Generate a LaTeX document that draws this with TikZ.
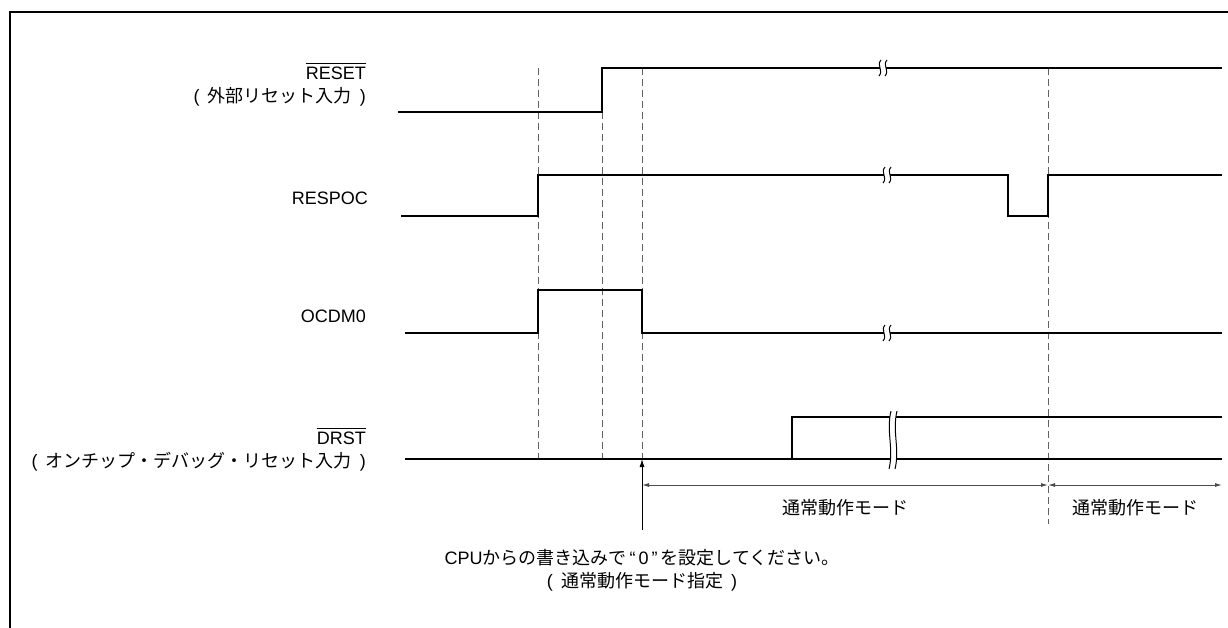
\documentclass[tikz,border=0pt]{standalone}
\usepackage{fontspec}
\setmainfont{Liberation Sans}
\newfontfamily\jp{Noto Sans CJK JP}
\usetikzlibrary{arrows.meta,positioning}

\tikzset{
  sig/.style={line width=1.8pt, line join=miter},
  guide/.style={gray!75!black, line width=0.9pt, dash pattern=on 7pt off 4pt},
  dimline/.style={gray!60!black, line width=0.9pt, {Latex[length=7pt,width=4pt]}-{Latex[length=7pt,width=4pt]}},
  lbl/.style={font=\fontsize{18}{23}\selectfont, inner sep=0pt},
}

% japanese text in spaced parentheses
\newcommand{\jparen}[1]{(\hspace{0.45em}{\jp #1}\hspace{0.45em})}
% active-low signal name
\newcommand{\lowname}[1]{\leavevmode\vbox{\hrule height 1.1pt\kern 3pt\hbox{#1}}}

% break mark: x, y, half height
\newcommand{\brkmark}[3]{%
  \fill[white] (#1+1,#2-#3) .. controls (#1-4,#2-0.3*#3) and (#1+4,#2+0.3*#3) .. (#1-1,#2+#3)
    -- (#1+5,#2+#3) .. controls (#1+10,#2+0.3*#3) and (#1+2,#2-0.3*#3) .. (#1+7,#2-#3) -- cycle;
  \draw[line width=1pt] (#1+1,#2-#3) .. controls (#1-4,#2-0.3*#3) and (#1+4,#2+0.3*#3) .. (#1-1,#2+#3);
  \draw[line width=1pt] (#1+7,#2-#3) .. controls (#1+2,#2-0.3*#3) and (#1+10,#2+0.3*#3) .. (#1+5,#2+#3);
}

\begin{document}
\begin{tikzpicture}[x=1pt, y=-1pt]
    \useasboundingbox (0,0) rectangle (1228,628);

    % frame
    \draw[line width=2pt] (10,628) -- (10,12) -- (1228,12);

    % signal names
    \node[lbl, anchor=east, align=right] (l-reset) at (366,85) {\lowname{RESET}\\\jparen{外部リセット入力}};
    \node[lbl, anchor=east] (l-respoc) at (368,198) {RESPOC};
    \node[lbl, anchor=east] (l-ocdm) at (366,316) {OCDM0};
    \node[lbl, anchor=east, align=right] (l-drst) at (366,450) {\lowname{DRST}\\\jparen{オンチップ・デバッグ・リセット入力}};

    % timing guides
    \foreach \x in {538,602,642} {
        \draw[guide] (\x,68) -- (\x,459);
    }
    \draw[guide] (1048,68) -- (1048,524);

    % RESET
    \draw[sig] (398,112) -- (602,112) -- (602,68) -- (1222,68);
    % RESPOC
    \draw[sig] (401,216) -- (538,216) -- (538,175) -- (1008,175) -- (1008,216) -- (1048,216) -- (1048,175) -- (1222,175);
    % OCDM0
    \draw[sig] (405,333) -- (538,333) -- (538,290) -- (642,290) -- (642,333) -- (1222,333);
    % DRST
    \draw[sig] (405,459) -- (1222,459);
    \draw[sig] (792,459) -- (792,417) -- (1222,417);

    % breaks
    \brkmark{880}{68}{8}
    \brkmark{884}{175}{8}
    \brkmark{884}{333}{8}
    \brkmark{890}{440}{29}

    % mode spans
    \coordinate (m1) at (642,485);
    \coordinate (m2) at (1048,485);
    \coordinate (m3) at (1222,485);
    \draw[dimline] (m1) -- (m2);
    \draw[dimline] (m2) -- (m3);
    \node[lbl] (mode1) at (845,508) {\jp 通常動作モード};
    \node[lbl] (mode2) at (1135,508) {\jp 通常動作モード};

    % write point
    \coordinate (wr) at (642,530);
    \coordinate (wr-top) at (642,459);
    \draw[line width=0.9pt, -{Latex[length=8pt,width=5pt]}] (wr) -- (wr-top);
    \node[lbl, align=center] (note) at (642,570) {CPU{\jp からの書き込みで}\,“\,0\,”\,{\jp を設定してください。}\\\jparen{通常動作モード指定}};
\end{tikzpicture}
\end{document}
